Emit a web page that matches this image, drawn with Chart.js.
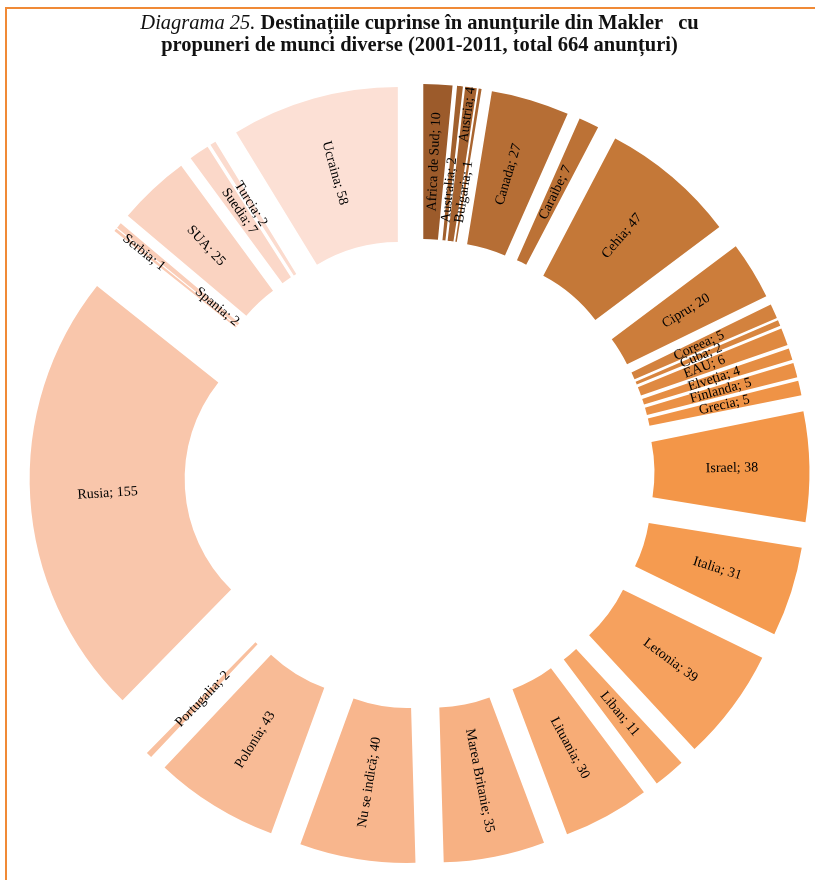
<!DOCTYPE html>
<html lang="ro">
<head>
<meta charset="utf-8">
<title>Diagrama 25</title>
<script src="https://cdn.jsdelivr.net/npm/chart.js@4.4.1/dist/chart.umd.min.js"></script>
<style>
  html, body { margin: 0; padding: 0; background: #fff; }
  body { width: 815px; height: 880px; position: relative; overflow: hidden; }
  #frame {
    position: absolute; left: 5px; top: 7px; width: 830px; height: 900px;
    border-top: 2px solid #F08A36; border-left: 2px solid #F08A36;
  }
  #title {
    position: absolute; left: 24px; right: 0; top: 11px;
    text-align: center; font-family: "Liberation Serif", serif;
    font-size: 20.5px; line-height: 22px; color: #111; white-space: pre;
  }
  #title b { font-weight: bold; }
  canvas { position: absolute; left: 0; top: 0; }
</style>
</head>
<body>
<div id="frame"></div>
<canvas id="destChart" width="815" height="880"></canvas>
<div id="title"><i>Diagrama 25.</i> <b>Destinațiile cuprinse în anunțurile din Makler   cu</b>
<b>propuneri de munci diverse (2001-2011, total 664 anunțuri)</b></div>
<script>
// destinatii si numarul de anunturi
const tari = ['Africa de Sud', 'Australia', 'Austria', 'Bulgaria', 'Canada', 'Caraibe', 'Cehia',
  'Cipru', 'Coreea', 'Cuba', 'EAU', 'Elveția', 'Finlanda', 'Grecia', 'Israel', 'Italia',
  'Letonia', 'Liban', 'Lituania', 'Marea Britanie', 'Nu se indică', 'Polonia', 'Portugalia',
  'Rusia', 'Serbia', 'Spania', 'SUA', 'Suedia', 'Turcia', 'Ucraina'];
const anunturi = [10, 2, 4, 1, 27, 7, 47, 20, 5, 2, 6, 4, 5, 5, 38, 31, 39, 11, 30, 35, 40, 43, 2,
  155, 1, 2, 25, 7, 2, 58];

// culorile segmentelor (de la maro inchis la piersica deschis)
const culori = ['#9C5B2B', '#A1602D', '#A5622F', '#A96530', '#B66E35', '#BC7236', '#C47838',
  '#CC7D3B', '#D3823E', '#D8853F', '#DF8941', '#E58D43', '#EA9045', '#EF9346', '#F39648',
  '#F59B50', '#F6A15E', '#F6A76A', '#F7AC76', '#F7B183', '#F8B68D', '#F8BB96', '#F9C09F',
  '#F9C6AB', '#FACBB4', '#FACEB9', '#FAD3C1', '#FBD8C9', '#FBDBCE', '#FCE0D5'];

const EXPLODE = 80; // cat de departe e impins fiecare segment de centru

// etichetele care se suprapun sunt mutate pe raza (px)
const mutareEticheta = {
  'Australia': -27, 'Bulgaria': -27, 'Austria': 50,
  'Coreea': -5, 'Cuba': -7, 'EAU': -8, 'Elveția': -3,
  'Serbia': 41, 'Spania': -50, 'Suedia': 6, 'Turcia': 6
};

// deseneaza segmentele departate de centru, fiecare pe directia lui
const explodePlugin = {
  id: 'explode',
  beforeDatasetDraw(chart, args) {
    const ctx = chart.ctx;
    args.meta.data.forEach(function(arc) {
      const mid = (arc.startAngle + arc.endAngle) / 2;
      ctx.save();
      ctx.translate(Math.cos(mid) * EXPLODE, Math.sin(mid) * EXPLODE);
      arc.draw(ctx);
      ctx.restore();
    });
    return false;
  }
};

// etichete "Tara; valoare" rotite pe directia razei
const labelPlugin = {
  id: 'radialLabels',
  afterDatasetsDraw(chart) {
    const ctx = chart.ctx;
    const meta = chart.getDatasetMeta(0);
    ctx.save();
    ctx.font = '14px "Liberation Serif", serif';
    ctx.fillStyle = '#000';
    ctx.textAlign = 'center';
    ctx.textBaseline = 'middle';
    meta.data.forEach(function(arc, i) {
      const mid = (arc.startAngle + arc.endAngle) / 2;
      const r = EXPLODE + (arc.innerRadius + arc.outerRadius) / 2 + (mutareEticheta[tari[i]] || 0);
      const x = arc.x + Math.cos(mid) * r;
      const y = arc.y + Math.sin(mid) * r;
      let rot = mid;
      if (rot > Math.PI / 2) rot -= Math.PI;
      if (rot < -Math.PI / 2) rot += Math.PI;
      ctx.save();
      ctx.translate(x, y);
      ctx.rotate(rot);
      ctx.fillText(tari[i] + '; ' + anunturi[i], 0, 0);
      ctx.restore();
    });
    ctx.restore();
  }
};

const ctx = document.getElementById('destChart').getContext('2d');
new Chart(ctx, {
  type: 'doughnut',
  data: {
    labels: tari,
    datasets: [{
      data: anunturi,
      backgroundColor: culori,
      borderWidth: 0
    }]
  },
  options: {
    responsive: false,
    animation: false,
    radius: 310,
    cutout: '50%',
    layout: { padding: { left: 24, top: 68, right: 0, bottom: 0 } },
    plugins: {
      legend: { display: false },
      tooltip: { enabled: false }
    }
  },
  plugins: [explodePlugin, labelPlugin]
});
</script>
</body>
</html>
